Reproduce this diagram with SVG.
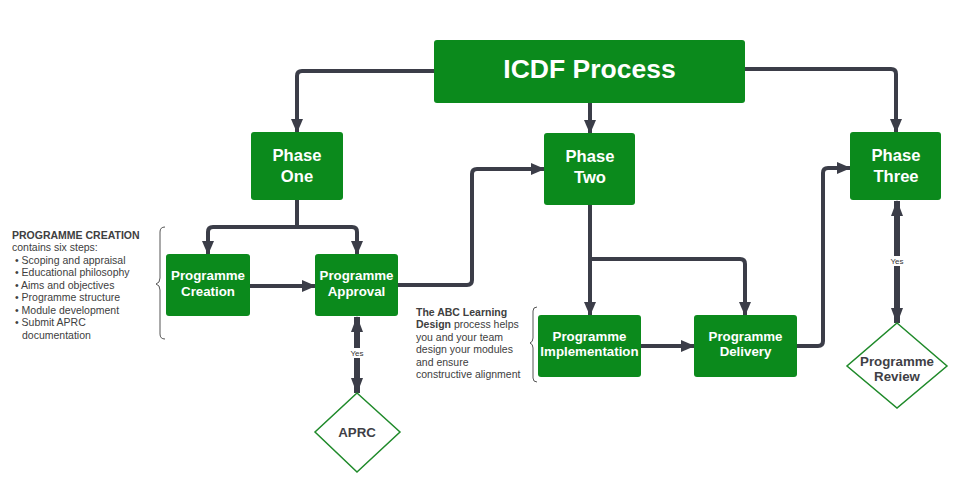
<svg xmlns="http://www.w3.org/2000/svg" width="960" height="483" viewBox="0 0 960 483">
<defs>
<style>
.box{fill:#0b8a1c;}
.nt{font-family:"Liberation Sans",Arial,sans-serif;font-weight:bold;fill:#ffffff;text-anchor:middle;}
.dt{font-family:"Liberation Sans",Arial,sans-serif;font-weight:bold;fill:#3f3f46;text-anchor:middle;font-size:13.3px;}
.dia{fill:#ffffff;stroke:#1f8a2a;stroke-width:1.5;}
.con{fill:none;stroke:#3b3d48;stroke-width:4;stroke-linejoin:round;}
.yes{fill:none;stroke:#3b3d48;stroke-width:6;}
.note{font-family:"Liberation Sans",Arial,sans-serif;font-size:10.5px;fill:#404040;}
.brace{fill:none;stroke:#555;stroke-width:1;}
.yl{font-family:"Liberation Sans",Arial,sans-serif;font-size:8px;fill:#333;text-anchor:middle;}
</style>
<marker id="ah" markerUnits="userSpaceOnUse" markerWidth="14" markerHeight="12" refX="13" refY="6" orient="auto-start-reverse">
<path d="M0,0 L14,6 L0,12 Z" fill="#3b3d48"/>
</marker>
<marker id="ahy" markerUnits="userSpaceOnUse" markerWidth="16" markerHeight="12" refX="15" refY="6" orient="auto-start-reverse">
<path d="M0,0 L16,6 L0,12 Z" fill="#3b3d48"/>
</marker>
</defs>
<rect width="960" height="483" fill="#ffffff"/>

<g id="connectors">
<path class="con" d="M434,71 H302 Q297,71 297,76 V132" marker-end="url(#ah)"/>
<path class="con" d="M590,103 V133" marker-end="url(#ah)"/>
<path class="con" d="M745,69 H891 Q896,69 896,74 V132" marker-end="url(#ah)"/>
<path class="con" d="M297,200 V227 H213 Q208,227 208,232 V254" marker-end="url(#ah)"/>
<path class="con" d="M297,227 H352 Q357,227 357,232 V254" marker-end="url(#ah)"/>
<path class="con" d="M250,286 H315" marker-end="url(#ah)"/>
<path class="con" d="M398,285 H467 Q472,285 472,280 V174 Q472,169 477,169 H544" marker-end="url(#ah)"/>
<path class="con" d="M590,205 V315" marker-end="url(#ah)"/>
<path class="con" d="M590,259 H740 Q745,259 745,264 V315" marker-end="url(#ah)"/>
<path class="con" d="M641,346 H694" marker-end="url(#ah)"/>
<path class="con" d="M797,346 H818 Q823,346 823,341 V173 Q823,168 828,168 H850" marker-end="url(#ah)"/>
<path class="yes" d="M357,317 V393" marker-start="url(#ahy)" marker-end="url(#ahy)"/>
<path class="yes" d="M897,201 V323" marker-start="url(#ahy)" marker-end="url(#ahy)"/>
<rect x="347" y="348" width="20" height="10" fill="#ffffff"/>
<text class="yl" x="357" y="356">Yes</text>
<rect x="887" y="256" width="20" height="10" fill="#ffffff"/>
<text class="yl" x="897" y="264">Yes</text>
</g>

<g id="icdf">
<rect class="box" x="434" y="40" width="311" height="63" rx="3"/>
<text class="nt" x="589.5" y="78" font-size="26.5">ICDF Process</text>
</g>
<g id="phase-one">
<rect class="box" x="251" y="132" width="92" height="68" rx="3"/>
<text class="nt" x="297" y="161" font-size="16.6">Phase</text>
<text class="nt" x="297" y="182" font-size="16.6">One</text>
</g>
<g id="phase-two">
<rect class="box" x="544" y="133" width="91" height="72" rx="3"/>
<text class="nt" x="590" y="162" font-size="16.6">Phase</text>
<text class="nt" x="590" y="183" font-size="16.6">Two</text>
</g>
<g id="phase-three">
<rect class="box" x="850" y="132" width="91" height="68" rx="3"/>
<text class="nt" x="896" y="161" font-size="16.6">Phase</text>
<text class="nt" x="896" y="182" font-size="16.6">Three</text>
</g>
<g id="programme-creation">
<rect class="box" x="166" y="254" width="84" height="62" rx="3"/>
<text class="nt" x="208" y="280" font-size="13.3">Programme</text>
<text class="nt" x="208" y="296" font-size="13.3">Creation</text>
</g>
<g id="programme-approval">
<rect class="box" x="315" y="254" width="83" height="62" rx="3"/>
<text class="nt" x="356.5" y="280" font-size="13.3">Programme</text>
<text class="nt" x="356.5" y="296" font-size="13.3">Approval</text>
</g>
<g id="programme-implementation">
<rect class="box" x="538" y="315" width="103" height="62" rx="3"/>
<text class="nt" x="589.5" y="341" font-size="13.3">Programme</text>
<text class="nt" x="589.5" y="356" font-size="13.3">Implementation</text>
</g>
<g id="programme-delivery">
<rect class="box" x="694" y="315" width="103" height="62" rx="3"/>
<text class="nt" x="745.5" y="341" font-size="13.3">Programme</text>
<text class="nt" x="745.5" y="356" font-size="13.3">Delivery</text>
</g>
<g id="aprc">
<path class="dia" d="M357,393 L400,432 L357,472 L315,432 Z"/>
<text class="dt" x="357" y="437">APRC</text>
</g>
<g id="programme-review">
<path class="dia" d="M897,323 L947,366 L897,408 L847,366 Z"/>
<text class="dt" x="897" y="366">Programme</text>
<text class="dt" x="897" y="381">Review</text>
</g>

<g id="note-creation">
<text class="note" x="12" y="239" font-weight="bold">PROGRAMME CREATION</text>
<text class="note" x="12" y="251">contains six steps:</text>
<text class="note" x="15" y="264">• Scoping and appraisal</text>
<text class="note" x="15" y="276">• Educational philosophy</text>
<text class="note" x="15" y="289">• Aims and objectives</text>
<text class="note" x="15" y="301">• Programme structure</text>
<text class="note" x="15" y="314">• Module development</text>
<text class="note" x="15" y="326">• Submit APRC</text>
<text class="note" x="22" y="339">documentation</text>
<path class="brace" d="M165,227 Q160,227 160,232 V278 Q160,283 156,284 Q160,285 160,290 V334 Q160,339 165,339"/>
</g>
<g id="note-abc">
<text class="note" x="416" y="316" font-weight="bold">The ABC Learning</text>
<text class="note" x="416" y="328"><tspan font-weight="bold">Design</tspan> process helps</text>
<text class="note" x="416" y="341">you and your team</text>
<text class="note" x="416" y="353">design your modules</text>
<text class="note" x="416" y="366">and ensure</text>
<text class="note" x="416" y="378">constructive alignment</text>
<path class="brace" d="M537,307 Q533,307 533,311 V338 Q533,342 530,343 Q533,344 533,348 V378 Q533,382 537,382"/>
</g>
</svg>
